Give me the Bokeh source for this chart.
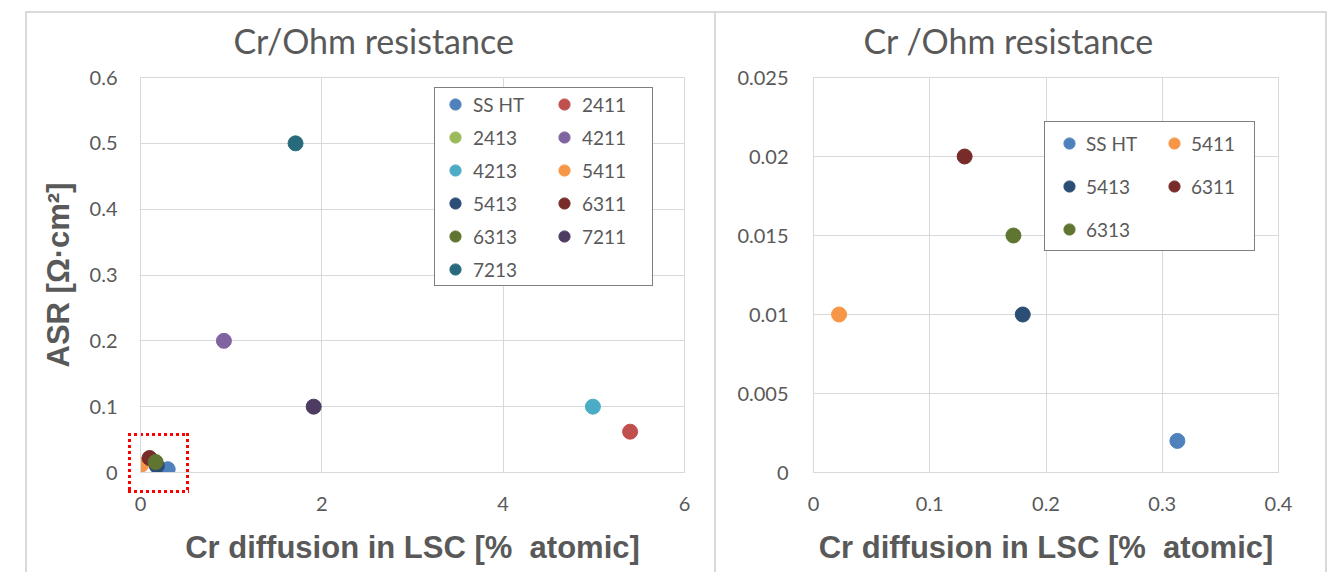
from bokeh.plotting import figure
from bokeh.models import Legend, LegendItem, Range1d, FixedTicker
from bokeh.layouts import row
from bokeh.embed import file_html
from bokeh.resources import INLINE

# ---- data: left chart ----
left_names = ["SS HT", "2411", "2413", "4211", "4213", "5411", "5413", "6311", "6313", "7211", "7213"]
left_x = [0.30, 5.40, 0.16, 0.92, 4.99, 0.01, 0.18, 0.10, 0.167, 1.91, 1.71]
left_y = [0.005, 0.062, 0.015, 0.200, 0.100, 0.012, 0.010, 0.022, 0.016, 0.100, 0.500]
left_colors = ["#4F81BD", "#C0504D", "#9BBB59", "#8064A2", "#4BACC6", "#F79646",
               "#2C4D75", "#772C2A", "#5F7530", "#4D3B62", "#276A7C"]

# ---- data: right chart ----
right_names = ["SS HT", "5411", "5413", "6311", "6313"]
right_x = [0.313, 0.022, 0.180, 0.130, 0.172]
right_y = [0.002, 0.010, 0.010, 0.020, 0.015]
right_colors = ["#4F81BD", "#F79646", "#2C4D75", "#772C2A", "#5F7530"]

left_xticks = [0, 2, 4, 6]
left_yticks = [0, 0.1, 0.2, 0.3, 0.4, 0.5, 0.6]
right_xticks = [0, 0.1, 0.2, 0.3, 0.4]
right_yticks = [0, 0.005, 0.01, 0.015, 0.02, 0.025]

# dotted zoom box around the cluster near the origin (data units)
zoom_box = dict(left=-0.13, right=0.51, bottom=-0.024, top=0.062)

GRAY = "#595959"
GRID = "#d9d9d9"
TICK_FONT = "Lato"
LABEL_FONT = "Liberation Sans"
xlabel = "Cr diffusion in LSC [%\u00a0 atomic]"


def style(p, xticks, yticks):
    p.xaxis.ticker = FixedTicker(ticks=xticks)
    p.yaxis.ticker = FixedTicker(ticks=yticks)
    for ax in (p.xaxis[0], p.yaxis[0]):
        ax.axis_line_color = GRID
        ax.major_tick_line_color = None
        ax.minor_tick_line_color = None
        ax.major_label_text_font = TICK_FONT
        ax.major_label_text_font_size = "20px"
        ax.major_label_text_color = GRAY
        ax.axis_label_text_font = LABEL_FONT
        ax.axis_label_text_font_style = "bold"
        ax.axis_label_text_font_size = "31px"
        ax.axis_label_text_color = GRAY
    p.xgrid.ticker = FixedTicker(ticks=xticks)
    p.ygrid.ticker = FixedTicker(ticks=yticks)
    p.grid.grid_line_color = GRID
    p.grid.grid_line_width = 1
    p.outline_line_color = GRID
    p.xaxis.major_label_standoff = 18
    p.xaxis.axis_label_standoff = 16
    p.background_fill_color = None
    p.border_fill_color = None
    p.yaxis.formatter.use_scientific = False
    p.title.text_font = TICK_FONT
    p.title.text_font_size = "34px"
    p.title.text_color = GRAY
    p.title.text_font_style = "normal"
    p.title.align = "left"
    p.title.standoff = 34


def hline(x, y, w, h, color=GRID):
    return f"linear-gradient({color},{color}) {x}px {y}px / {w}px {h}px no-repeat"


def dotted(x, y, w, h, horizontal, color="#ff0000"):
    d = "to right" if horizontal else "to bottom"
    return (f"repeating-linear-gradient({d}, {color} 0px 3px, transparent 3px 6px) "
            f"{x}px {y}px / {w}px {h}px no-repeat")


# ---------------- left figure ----------------
LW, LH = 714, 572
L_FRAME = (140, 684, 75, 474)  # x0, x1, y0, y1 canvas
pl = figure(width=LW, height=LH, output_backend="svg", toolbar_location=None,
            x_range=Range1d(0, 6), y_range=Range1d(0, 0.6),
            title="Cr/Ohm resistance",
            min_border_left=L_FRAME[0], min_border_right=LW - L_FRAME[1],
            min_border_top=L_FRAME[2], min_border_bottom=LH - L_FRAME[3])
style(pl, left_xticks, left_yticks)
pl.title.offset = 93
pl.xaxis.axis_label = xlabel
pl.yaxis.axis_label = "ASR [Ω·cm²]"
pl.yaxis.major_label_standoff = 17
pl.yaxis.axis_label_standoff = 11

renderers_l = {}
for n, x, y, c in zip(left_names, left_x, left_y, left_colors):
    renderers_l[n] = pl.scatter([x], [y], size=15, fill_color=c, line_color=c)

order_l = left_names[0::2] + left_names[1::2]
leg_l = Legend(items=[LegendItem(label=n, renderers=[renderers_l[n]]) for n in order_l],
               ncols=2, location=(294, 186))
pl.add_layout(leg_l)

# page decoration: panel border + red dotted zoom box (box mapped from data units)
sx = lambda v: L_FRAME[0] + (v - 0) * (L_FRAME[1] - L_FRAME[0]) / 6
sy = lambda v: L_FRAME[3] - (v - 0) * (L_FRAME[3] - L_FRAME[2]) / 0.6
bx0, bx1 = round(sx(zoom_box["left"])), round(sx(zoom_box["right"]))
by0, by1 = round(sy(zoom_box["top"])), round(sy(zoom_box["bottom"]))
layers_l = [
    dotted(bx0, by0, bx1 - bx0 + 3, 3, True),
    dotted(bx0, by1, bx1 - bx0 + 3, 3, True),
    dotted(bx0, by0, 3, by1 - by0 + 3, False),
    dotted(bx1, by0, 3, by1 - by0 + 3, False),
    hline(25, 11, 2, LH - 11),
    hline(25, 11, LW - 25, 2),
]
pl.styles = {"background": ", ".join(layers_l) + ", white"}

# ---------------- right figure ----------------
RW, RH = 620, 572
R_FRAME = (99, 564, 77, 472)  # x0, x1, y0, y1 in this canvas
pr = figure(width=RW, height=RH, output_backend="svg", toolbar_location=None,
            x_range=Range1d(0, 0.4), y_range=Range1d(0, 0.025),
            title="Cr /Ohm resistance",
            min_border_left=R_FRAME[0], min_border_right=RW - R_FRAME[1],
            min_border_top=R_FRAME[2], min_border_bottom=RH - R_FRAME[3])
style(pr, right_xticks, right_yticks)
pr.title.offset = 50
pr.xaxis.axis_label = xlabel
pr.yaxis.major_label_standoff = 19

renderers_r = {}
for n, x, y, c in zip(right_names, right_x, right_y, right_colors):
    renderers_r[n] = pr.scatter([x], [y], size=15, fill_color=c, line_color=c)

order_r = right_names[0::2] + right_names[1::2]
leg_r = Legend(items=[LegendItem(label=n, renderers=[renderers_r[n]]) for n in order_r],
               ncols=2, location=(231, 221))
pr.add_layout(leg_r)

layers_r = [
    hline(0, 11, 2, RH - 11),
    hline(0, 11, 613, 2),
    hline(611, 11, 2, RH - 11),
]
pr.styles = {"background": ", ".join(layers_r) + ", white"}

for leg in (leg_l, leg_r):
    leg.label_text_font = TICK_FONT
    leg.label_text_font_size = "19px"
    leg.label_text_color = GRAY
    leg.border_line_color = "black"
    leg.border_line_width = 1
    leg.background_fill_color = "white"
    leg.background_fill_alpha = 1
    leg.glyph_height = 28
    leg.label_standoff = 0
    leg.label_height = 20
    leg.margin = 0
leg_l.glyph_width = 36
leg_l.spacing = 5
leg_l.padding = 2
leg_l.label_width = 68
leg_r.glyph_width = 34
leg_r.spacing = 15
leg_r.padding = 7
leg_r.label_width = 56

layout = row(pl, pr)
open("out.html", "w").write(file_html(layout, INLINE))
